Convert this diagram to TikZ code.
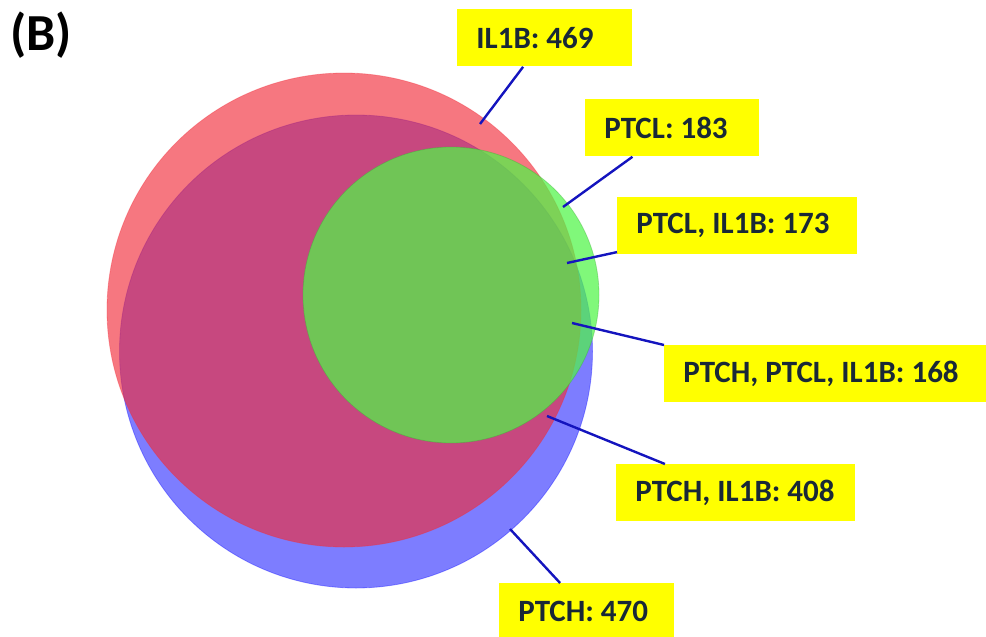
\documentclass[tikz,border=0pt]{standalone}
\usepackage{fontspec}
\setmainfont{Carlito}
\frenchspacing

\definecolor{tagyellow}{RGB}{255,255,0}
\definecolor{tagtext}{RGB}{25,40,55}
\definecolor{pinblue}{RGB}{20,20,190}
\definecolor{vennblue}{rgb}{0,0,1}
\definecolor{vennred}{rgb}{0.945,0.17,0.22}
\definecolor{venngreen}{rgb}{0.31,0.96,0.28}

\tikzset{
  tag/.style={fill=tagyellow, text=tagtext, font=\fontsize{15.5}{18}\selectfont\bfseries,
    inner xsep=9.5pt, inner ysep=0pt, minimum height=28.5pt, align=flush left, anchor=north west},
  pin line/.style={draw=pinblue, line width=1.2pt},
  venn/.style={draw opacity=0.35, line width=0.4pt}
}

\begin{document}
\begin{tikzpicture}[x=0.5pt, y=-0.5pt]

% Page size in pixels of the reference
\useasboundingbox (0,0) rectangle (986,637);

% Panel letter
\node[anchor=base west, inner sep=0pt, font=\fontsize{26}{30}\selectfont\bfseries] (panel) at (10,50) {(B)};

% Draw the sets (PTCH, IL1B, PTCL)
\path[venn, fill=vennblue, fill opacity=0.51, draw=vennblue] (356,351.5) circle[radius=118.25pt];
\path[venn, fill=vennred, fill opacity=0.64, draw=vennred] (344,310) circle[radius=118.5pt];
\path[venn, fill=venngreen, fill opacity=0.72, draw=venngreen!70!black] (451,295) circle[radius=74pt];

% Points on the regions
\coordinate (p1) at (480,124);
\coordinate (p2) at (563,207);
\coordinate (p3) at (567,263);
\coordinate (p4) at (572,323);
\coordinate (p5) at (547,416);
\coordinate (p6) at (510,529);

% Labels
\node[tag, text width=68.5pt] (il1b) at (457,9) {IL1B: 469};
\node[tag, text width=68pt] (ptcl) at (585,99) {PTCL: 183};
\node[tag, text width=101pt] (ptclil) at (617,197) {PTCL, IL1B: 173};
\node[tag, text width=146pt] (all) at (664,345) {PTCH, PTCL, IL1B: 168};
\node[tag, text width=100.5pt] (ptchil) at (616,464) {PTCH, IL1B: 408};
\node[tag, text width=68.5pt] (ptch) at (499,583) {PTCH: 470};

% Connectors
\draw[pin line] (il1b) -- (p1);
\draw[pin line] (ptcl) -- (p2);
\draw[pin line] (ptclil) -- (p3);
\draw[pin line] (all.north west) -- (p4);
\draw[pin line] (ptchil) -- (p5);
\draw[pin line] (ptch) -- (p6);

\end{tikzpicture}
\end{document}
